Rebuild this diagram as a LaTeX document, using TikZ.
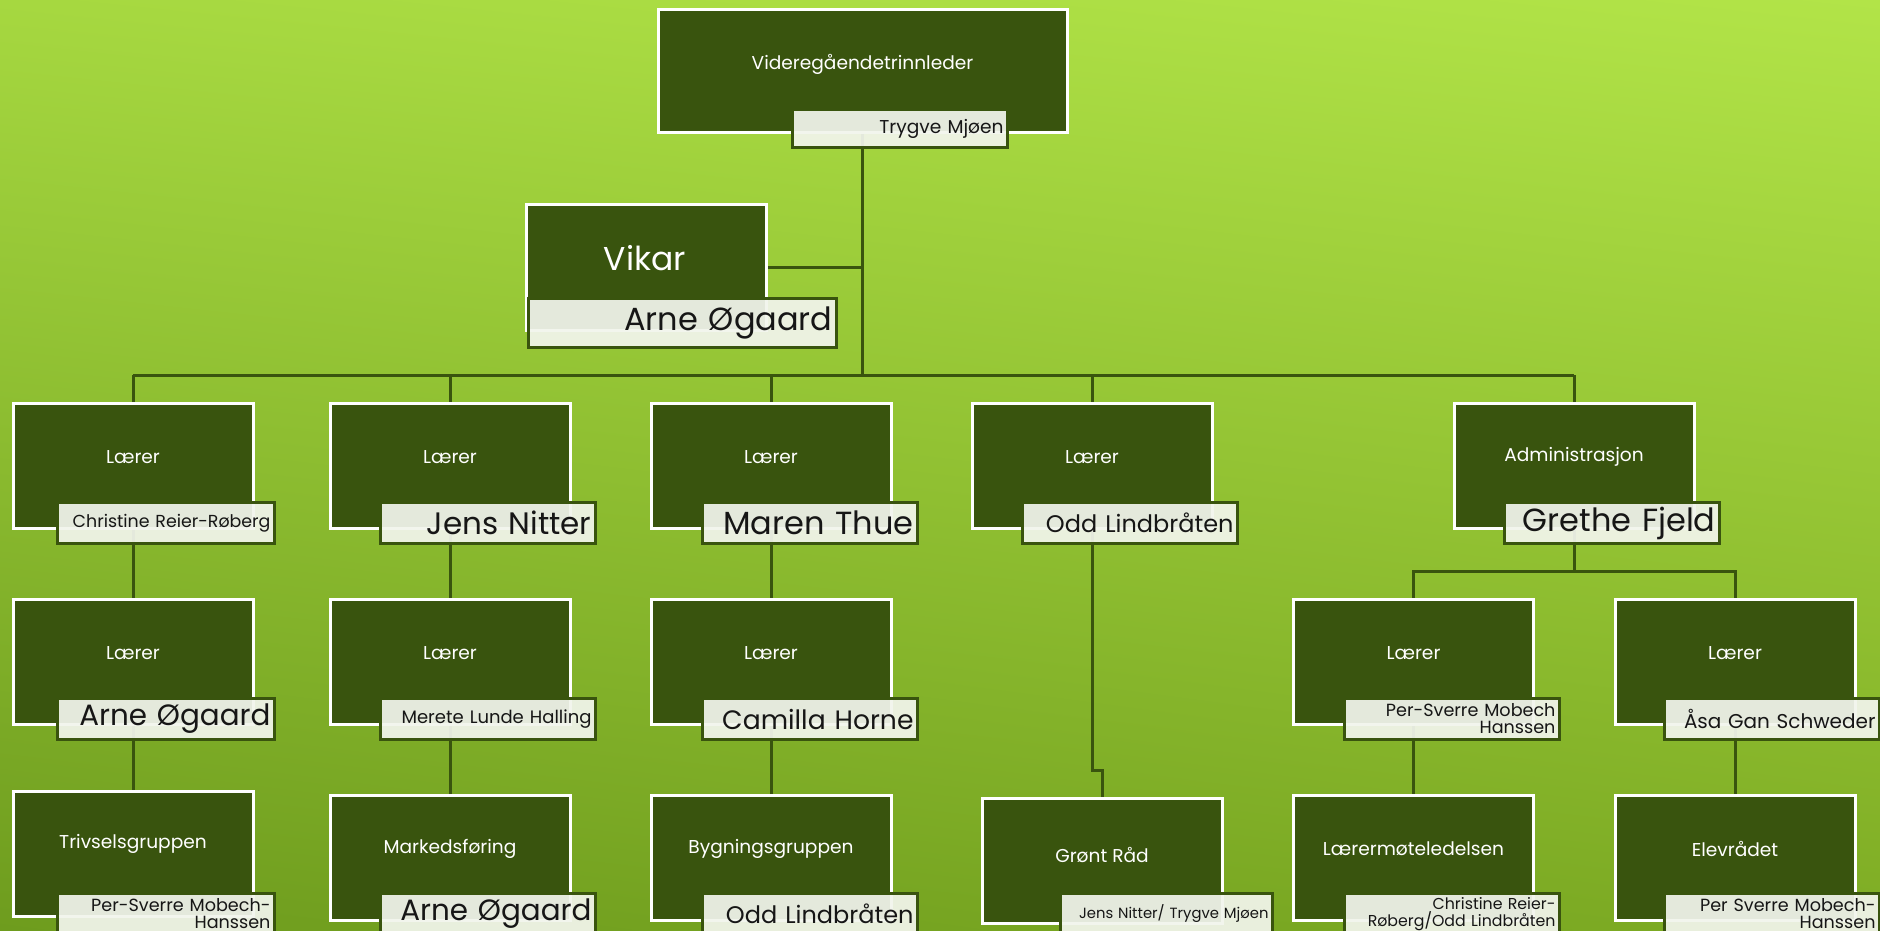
\documentclass[tikz,border=0pt]{standalone}
\usepackage{fontspec}
\setmainfont{Poppins}
\usepackage{tikz}
\usetikzlibrary{shadings}
\definecolor{dkgreen}{RGB}{57,84,14}
\definecolor{tagfill}{RGB}{242,245,236}
\definecolor{tagtext}{RGB}{22,22,22}
\definecolor{bgul}{RGB}{166,216,64}
\definecolor{bgur}{RGB}{178,228,72}
\definecolor{bgll}{RGB}{110,156,30}
\definecolor{bglr}{RGB}{126,172,36}
\pgfdeclarelayer{bg}
\pgfdeclarelayer{wires}
\pgfsetlayers{bg,wires,main}
\tikzstyle{box}=[draw=white, fill=dkgreen, line width=1.5pt, rectangle, minimum width=120pt, minimum height=62.5pt, inner sep=0pt]
\tikzstyle{tag}=[draw=dkgreen, fill=tagfill, fill opacity=0.93, text opacity=1, text=tagtext, line width=1.5pt, rectangle, anchor=north west, minimum width=107.5pt, text width=103.5pt, minimum height=20.5pt, inner xsep=2pt, inner ysep=0pt, align=right]
\tikzstyle{lbl}=[text=white, font=\fontsize{9.3}{0}\selectfont]
\tikzstyle{ln}=[draw=dkgreen, line width=1.5pt]

\begin{document}
\begin{tikzpicture}[x=0.5pt,y=-0.5pt]
\path[use as bounding box] (0,0) rectangle (1880,931);
\clip (0,0) rectangle (1880,931);
\begin{pgfonlayer}{bg}
\shade[upper left=bgul, upper right=bgur, lower left=bgll, lower right=bglr] (0,0) rectangle (1880,931);
\end{pgfonlayer}

\node[box, minimum width=204.5pt, minimum height=61.5pt] (lead) at (862.5,71.5) {};
\node[lbl] (leadl) at (862.5,64) {Videregåendetrinnleder};
\node[tag, font=\fontsize{9.3}{0}\selectfont, minimum height=19pt] (leadt) at (791,108) {Trygve Mjøen};

\node[box, minimum height=63pt] (vik) at (646,267) {};
\node[lbl, font=\fontsize{16.5}{0}\selectfont] (vikl) at (645,258) {Vikar};
\node[tag, font=\fontsize{16}{0}\selectfont, minimum width=154pt, text width=150pt, minimum height=24.5pt] (vikt) at (527,297) {Arne Øgaard};

\node[box] (l1) at (133,465.5) {};
\node[lbl] (l1l) at (133,457) {Lærer};
\node[tag, font=\fontsize{8.7}{0}\selectfont, minimum width=108.5pt, text width=104.5pt] (l1t) at (56,501) {Christine Reier-Røberg};
\node[box] (l2) at (450,465.5) {};
\node[lbl] (l2l) at (450,457) {Lærer};
\node[tag, font=\fontsize{15.5}{0}\selectfont] (l2t) at (379,501) {Jens Nitter};
\node[box] (l3) at (771,465.5) {};
\node[lbl] (l3l) at (771,457) {Lærer};
\node[tag, font=\fontsize{16}{0}\selectfont] (l3t) at (701,501) {Maren Thue};
\node[box] (l4) at (1092,465.5) {};
\node[lbl] (l4l) at (1092,457) {Lærer};
\node[tag, font=\fontsize{12}{0}\selectfont] (l4t) at (1021,501) {Odd Lindbråten};
\node[box] (adm) at (1574,465.5) {};
\node[lbl] (adml) at (1574,457) {Administrasjon};
\node[tag, font=\fontsize{16}{0}\selectfont] (admt) at (1503,501) {Grethe Fjeld};

\node[box] (l1b) at (133,662) {};
\node[lbl] (l1bl) at (133,653) {Lærer};
\node[tag, font=\fontsize{14.7}{0}\selectfont, minimum width=108.5pt, text width=104.5pt] (l1bt) at (56,697) {Arne Øgaard};
\node[box] (l2b) at (450,662) {};
\node[lbl] (l2bl) at (450,653) {Lærer};
\node[tag, font=\fontsize{9}{0}\selectfont] (l2bt) at (379,697) {Merete Lunde Halling};
\node[box] (l3b) at (771,662) {};
\node[lbl] (l3bl) at (771,653) {Lærer};
\node[tag, font=\fontsize{13.3}{0}\selectfont] (l3bt) at (701,697) {Camilla Horne};
\node[box] (l6) at (1413.5,662) {};
\node[lbl] (l6l) at (1413.5,653) {Lærer};
\node[tag, font=\fontsize{8.8}{8.5}\selectfont] (l6t) at (1343,697) {Per-Sverre Mobech\\Hanssen};
\node[box] (l7) at (1735,662) {};
\node[lbl] (l7l) at (1735,653) {Lærer};
\node[tag, font=\fontsize{10}{0}\selectfont] (l7t) at (1663,697) {Åsa Gan Schweder};

\node[box] (triv) at (133,853.5) {};
\node[lbl] (trivl) at (133,844) {Trivselsgruppen};
\node[tag, font=\fontsize{8.8}{8.5}\selectfont, minimum width=108.5pt, text width=104.5pt] (trivt) at (56,892) {Per-Sverre Mobech-\\Hanssen};
\node[box] (mark) at (450,857.5) {};
\node[lbl] (markl) at (450,849) {Markedsføring};
\node[tag, font=\fontsize{14.7}{0}\selectfont] (markt) at (379,892) {Arne Øgaard};
\node[box] (bygg) at (771,857.5) {};
\node[lbl] (byggl) at (771,849) {Bygningsgruppen};
\node[tag, font=\fontsize{12}{0}\selectfont] (byggt) at (701,892) {Odd Lindbråten};
\node[box] (gront) at (1102,860.5) {};
\node[lbl] (grontl) at (1102,855) {Grønt Råd};
\node[tag, font=\fontsize{7.4}{0}\selectfont, minimum width=106pt, text width=102pt] (grontt) at (1059,892) {Jens Nitter/ Trygve Mjøen};
\node[box] (lmote) at (1413.5,857.5) {};
\node[lbl] (lmotel) at (1413.5,849) {Lærermøteledelsen};
\node[tag, font=\fontsize{7.9}{8.5}\selectfont] (lmotet) at (1343,892) {Christine Reier-\\Røberg/Odd Lindbråten};
\node[box] (elev) at (1735,857.5) {};
\node[lbl] (elevl) at (1735,849) {Elevrådet};
\node[tag, font=\fontsize{8.8}{8.5}\selectfont] (elevt) at (1663,892) {Per Sverre Mobech-\\Hanssen};

\begin{pgfonlayer}{wires}
\coordinate (bus) at (862.5,375);
\coordinate (sub) at (1574,571);
\coordinate (jog) at (1102,770);
\draw[ln] (lead.center) -- (bus);
\draw[ln] (vik.center) -- (vik.center -| lead.center);
\draw[ln] (l1.center |- bus) -- (adm.center |- bus);
\foreach \n in {l1,l2,l3,l4,adm}
  \draw[ln] (\n.center |- bus) -- (\n.center);
\draw[ln] (l1.center) -- (triv.center);
\draw[ln] (l2.center) -- (mark.center);
\draw[ln] (l3.center) -- (bygg.center);
\draw[ln] (l4.center) |- (jog) -- (gront.center);
\draw[ln] (adm.center) -- (sub);
\draw[ln] (l6.center) |- (sub) -| (l7.center);
\draw[ln] (l6.center) -- (lmote.center);
\draw[ln] (l7.center) -- (elev.center);
\end{pgfonlayer}
\end{tikzpicture}
\end{document}
